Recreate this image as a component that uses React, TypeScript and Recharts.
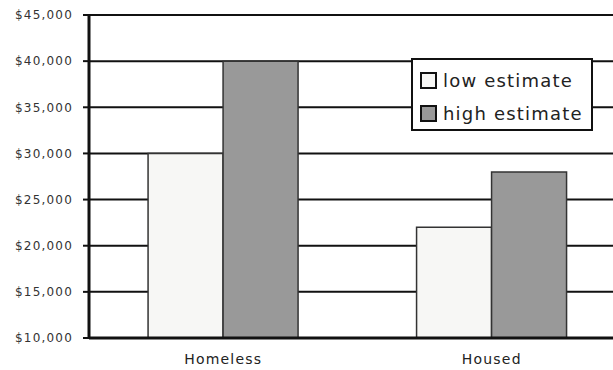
import { BarChart, Bar, XAxis, YAxis, CartesianGrid } from "recharts";

const categories = ["Homeless", "Housed"];
const lowEstimate = [30000, 22000];
const highEstimate = [40000, 28000];
const yTicks = [10000, 15000, 20000, 25000, 30000, 35000, 40000, 45000];

const data = categories.map((name, i) => ({
  name,
  low: lowEstimate[i],
  high: highEstimate[i],
}));

const LOW_FILL = "#f7f7f5";
const HIGH_FILL = "#999999";

const fmt = (v: number) => "$" + v.toLocaleString("en-US");

function LegendBox() {
  const items = [
    { label: "low estimate", fill: LOW_FILL },
    { label: "high estimate", fill: HIGH_FILL },
  ];
  return (
    <div
      style={{
        position: "absolute",
        left: 411,
        top: 58,
        boxSizing: "border-box",
        width: 182,
        height: 73,
        border: "2px solid #111",
        background: "#fff",
        padding: "4px 0 0 7px",
        fontFamily: "DejaVu Sans",
        fontSize: 18,
        letterSpacing: 1.2,
        color: "#222",
      }}
    >
      {items.map((it) => (
        <div
          key={it.label}
          style={{ display: "flex", alignItems: "center", height: 33 }}
        >
          <span
            style={{
              boxSizing: "border-box",
              width: 17,
              height: 17,
              border: "2px solid #111",
              background: it.fill,
              marginRight: 6,
            }}
          />
          <span>{it.label}</span>
        </div>
      ))}
    </div>
  );
}

export default function App() {
  return (
    <div
      style={{
        position: "absolute",
        left: 0,
        top: 0,
        width: 613,
        height: 370,
        overflow: "hidden",
        background: "#fff",
      }}
    >
      <BarChart
        width={626}
        height={370}
        data={data}
        margin={{ top: 15, right: 0, left: 0, bottom: 0 }}
        barCategoryGap="22%"
        barGap={0}
      >
        <CartesianGrid
          horizontal
          vertical={false}
          stroke="#111"
          strokeWidth={2}
        />
        <XAxis
          dataKey="name"
          height={32}
          axisLine={{ stroke: "#111", strokeWidth: 3 }}
          tickLine={false}
          tick={{
            fontSize: 14,
            fill: "#222",
            fontFamily: "DejaVu Sans",
            letterSpacing: 1.2,
          }}
          tickMargin={10}
        />
        <YAxis
          width={89}
          domain={[10000, 45000]}
          ticks={yTicks}
          tickFormatter={fmt}
          axisLine={{ stroke: "#111", strokeWidth: 3 }}
          tickLine={{ stroke: "#111", strokeWidth: 2 }}
          tickSize={6}
          tickMargin={10}
          tick={{
            fontSize: 12,
            fill: "#333",
            fontFamily: "DejaVu Sans",
            letterSpacing: 1.2,
          }}
          allowDataOverflow
        />
        <Bar
          dataKey="low"
          name="low estimate"
          fill={LOW_FILL}
          stroke="#333"
          strokeWidth={1.5}
          isAnimationActive={false}
        />
        <Bar
          dataKey="high"
          name="high estimate"
          fill={HIGH_FILL}
          stroke="#333"
          strokeWidth={1.5}
          isAnimationActive={false}
        />
      </BarChart>
      <LegendBox />
    </div>
  );
}
